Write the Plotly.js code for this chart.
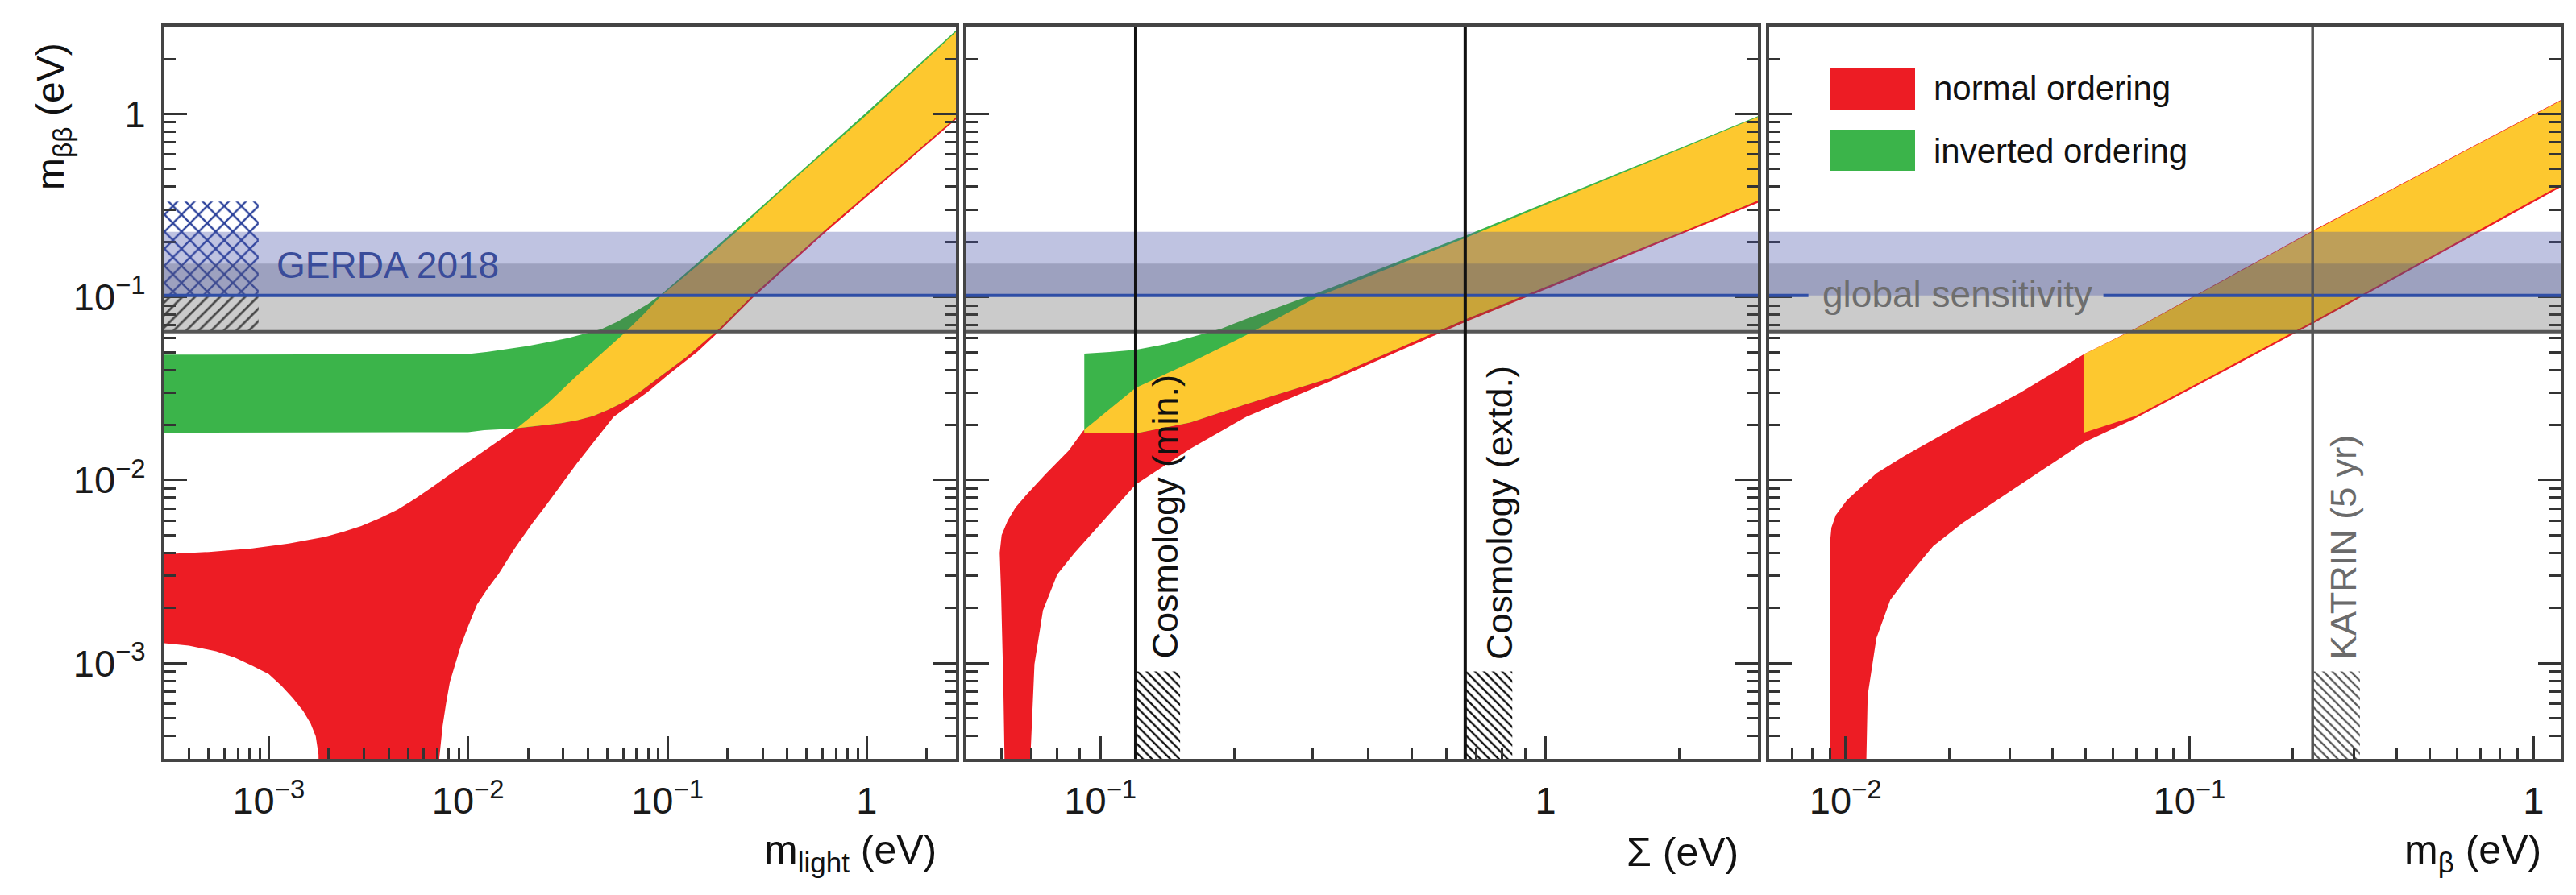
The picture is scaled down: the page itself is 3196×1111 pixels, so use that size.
<!DOCTYPE html>
<html>
<head>
<meta charset="utf-8">
<script src="https://cdn.plot.ly/plotly-3.0.1.min.js"></script>
<style>html,body{margin:0;padding:0;background:#fff;}#chart{width:3196px;height:1111px;}</style>
</head>
<body>
<div id="chart"></div>
<script>
// ---------------- DATA ----------------
// Panel 1: m_light (eV) -> m_bb (eV)
const p1NoUpper = [[3.0e-4,3.93e-3],[5.01e-4,4.05e-3],[8.28e-4,4.23e-3],[1.26e-3,4.50e-3],[1.91e-3,4.89e-3],[2.36e-3,5.21e-3],[2.91e-3,5.61e-3],[3.59e-3,6.18e-3],[4.42e-3,6.89e-3],[5.45e-3,7.93e-3],[6.71e-3,9.25e-3],[8.32e-3,0.01096],[0.0102,0.01274],[0.0134,0.0156],[0.01758,0.01919],[0.0209,0.02234],[0.02512,0.0263],[0.0295,0.0310],[0.03508,0.03715],[0.0457,0.0481],[0.06053,0.0631],[0.0759,0.0804],[0.09354,0.1023],[0.1413,0.1479],[0.2239,0.2291],[0.398,0.407],[1.0,0.9886],[2.8,2.80]];
const p1NoLower = [[3.0e-4,1.285e-3],[3.98e-4,1.245e-3],[5.45e-4,1.161e-3],[6.76e-4,1.072e-3],[8.28e-4,9.68e-4],[1.0e-3,8.71e-4],[1.159e-3,7.53e-4],[1.318e-3,6.46e-4],[1.489e-3,5.48e-4],[1.622e-3,4.68e-4],[1.722e-3,3.98e-4],[1.778e-3,3.16e-4],[1.80e-3,1.0e-4],[7.11e-3,1.0e-4],[7.16e-3,2.96e-4],[7.46e-3,4.56e-4],[7.76e-3,6.03e-4],[8.11e-3,7.89e-4],[8.71e-3,1.023e-3],[9.20e-3,1.245e-3],[0.0100,1.585e-3],[0.01109,2.089e-3],[0.01259,2.57e-3],[0.01429,3.09e-3],[0.01722,4.266e-3],[0.02089,5.754e-3],[0.02455,7.244e-3],[0.03508,0.0123],[0.0537,0.02213],[0.07943,0.0302],[0.1023,0.03802],[0.1413,0.05012],[0.1811,0.06457],[0.2679,0.09886],[0.6081,0.2213],[2.8,0.9333]];
const p1IoUpper = [[3.0e-4,0.04842],[0.0100,0.04875],[0.01259,0.05012],[0.01585,0.05188],[0.01995,0.05395],[0.02512,0.05662],[0.03162,0.05957],[0.03981,0.06368],[0.04677,0.06683],[0.05623,0.07328],[0.06668,0.08185],[0.07943,0.0912],[0.09354,0.1038],[0.2239,0.2371],[1.0,1.023],[2.8,2.858]];
const p1IoLower = [[3.0e-4,0.01816],[0.0100,0.01828],[0.01205,0.01871],[0.01722,0.0191],[0.02239,0.01972],[0.02938,0.02046],[0.03548,0.02128],[0.04236,0.02239],[0.05012,0.02415],[0.06053,0.02673],[0.07244,0.0302],[0.0865,0.03499],[0.1236,0.04677],[0.1811,0.06683],[0.2679,0.1023],[0.6081,0.2286],[2.8,0.9572]];
const p1BothUpper = [[0.01758,0.01919],[0.0209,0.02234],[0.02512,0.0263],[0.0295,0.0310],[0.03508,0.03715],[0.0457,0.0481],[0.06053,0.0631],[0.0759,0.0804],[0.09354,0.1023],[0.1413,0.1479],[0.2239,0.2291],[0.398,0.407],[1.0,0.9886],[2.8,2.80]];
const p1BothLower = [[0.01758,0.01919],[0.02239,0.01972],[0.02938,0.02046],[0.03548,0.02128],[0.04236,0.02239],[0.05012,0.02415],[0.06053,0.02673],[0.07244,0.0302],[0.0865,0.03499],[0.1236,0.04677],[0.1811,0.06683],[0.2679,0.1023],[0.6081,0.2286],[2.8,0.9572]];

// Panel 2: Sigma (eV) -> m_bb (eV)
const p2NoUpper = [[0.0594,0.0040],[0.0600,0.0050],[0.0619,0.0060],[0.0645,0.0071],[0.0680,0.00824],[0.0754,0.0108],[0.0849,0.0145],[0.0915,0.0186],[0.120,0.0319],[0.159,0.0438],[0.213,0.062],[0.309,0.101],[0.66,0.210],[3.0,0.962]];
const p2NoLower = [[0.0598,0.0025],[0.0605,8.0e-4],[0.0609,3.0e-4],[0.0610,1.0e-4],[0.0694,1.0e-4],[0.0696,3.0e-4],[0.0711,9.86e-4],[0.0743,0.00194],[0.0800,0.00305],[0.0875,0.0040],[0.1016,0.0060],[0.120,0.00944],[0.159,0.0148],[0.213,0.0222],[0.327,0.0345],[0.66,0.0730],[3.0,0.327]];
const p2IoUpper = [[0.092,0.049],[0.105,0.050],[0.120,0.0515],[0.140,0.0553],[0.159,0.060],[0.187,0.0672],[0.213,0.076],[0.309,0.106],[0.66,0.216],[3.0,0.972]];
const p2IoLower = [[0.092,0.0180],[0.120,0.0180],[0.159,0.0206],[0.213,0.0260],[0.327,0.0360],[0.66,0.0755],[1.97,0.221],[3.0,0.336]];
const p2BothUpper = [[0.092,0.0188],[0.120,0.0319],[0.159,0.0438],[0.213,0.062],[0.309,0.101],[0.66,0.210],[3.0,0.962]];
const p2BothLower = [[0.092,0.0180],[0.120,0.0180],[0.159,0.0206],[0.213,0.0260],[0.327,0.0360],[0.66,0.0755],[1.97,0.221],[3.0,0.336]];

// Panel 3: m_beta (eV) -> m_bb (eV)
const p3NoUpper = [[0.00902,0.0046],[0.0091,0.0055],[0.00937,0.00643],[0.0101,0.00778],[0.0123,0.0109],[0.0149,0.0136],[0.0219,0.0204],[0.0322,0.0300],[0.0492,0.0486],[0.0698,0.0675],[0.230,0.232],[1.2,1.19]];
const p3NoLower = [[0.00902,1.0e-4],[0.0115,1.0e-4],[0.0115,3.0e-4],[0.0116,6.67e-4],[0.0123,0.00137],[0.0135,0.00222],[0.0155,0.00312],[0.0180,0.00437],[0.0219,0.00583],[0.0265,0.00741],[0.0322,0.00944],[0.0390,0.0120],[0.0492,0.0160],[0.0698,0.0218],[0.117,0.0365],[0.230,0.0720],[1.2,0.398]];
const p3BothUpper = [[0.0492,0.0485],[0.0698,0.0671],[0.230,0.230],[1.2,1.18]];
const p3BothLower = [[0.0492,0.0181],[0.0698,0.0224],[0.117,0.0374],[0.230,0.0740],[1.2,0.409]];

// Horizontal limits / bands (m_bb, eV)
const gerdaBand = [0.102, 0.227];
const globalBand = [0.0646, 0.152];
const gerdaLimit = 0.102;
const globalLimit = 0.0646;
const gerdaHatch = {x:[3.0e-4, 8.9e-4], y:[0.102, 0.332]};
const globalHatch = {x:[3.0e-4, 8.9e-4], y:[0.0646, 0.102]};
// Vertical limits
const cosmoMin = 0.12, cosmoExtd = 0.66, katrin = 0.228;
const cosmoMinHatch = {x:[0.12, 0.151], y:[2.0e-4, 9.0e-4]};
const cosmoExtdHatch = {x:[0.66, 0.842], y:[2.0e-4, 9.0e-4]};
const katrinHatch = {x:[0.228, 0.313], y:[2.0e-4, 9.0e-4]};

// Axis ticks
const yTickVals = [1e-3, 1e-2, 1e-1, 1];
const yTickText = ['10<sup>\u22123</sup>','10<sup>\u22122</sup>','10<sup>\u22121</sup>','1'];
const x1TickVals = [1e-3, 1e-2, 1e-1, 1];
const x1TickText = ['10<sup>\u22123</sup>','10<sup>\u22122</sup>','10<sup>\u22121</sup>','1'];
const x2TickVals = [0.1, 1];
const x2TickText = ['10<sup>\u22121</sup>','1'];
const x3TickVals = [0.01, 0.1, 1];
const x3TickText = ['10<sup>\u22122</sup>','10<sup>\u22121</sup>','1'];
const yRange = [3e-4, 3];
const x1Range = [3e-4, 2.8];
const x2Range = [0.05, 3];
const x3Range = [0.006, 1.2];

// ---------------- STYLE ----------------
const FONT = 'Liberation Sans, Arial, Helvetica, sans-serif';
const RED = '#ED1C24', GREEN = '#3BB44A', YELLOW = '#FDC82F';
const BLUE_LINE = '#2F4EA6';
const W = 3196, H = 1111;
const PL = 204, PR = 3177, PT = 33, PB = 942;
const px2x = p => (p - PL) / (PR - PL);
const py2y = p => (PB - p) / (PB - PT);
const L = Math.log10;

function poly(upper, lower, color, xa, ya) {
  const lo = lower.slice().reverse();
  return {
    type: 'scatter', mode: 'lines', xaxis: xa, yaxis: ya,
    x: upper.map(p => p[0]).concat(lo.map(p => p[0])),
    y: upper.map(p => p[1]).concat(lo.map(p => p[1])),
    fill: 'toself', fillcolor: color, line: {width: 0, color: color},
    hoverinfo: 'skip', showlegend: false
  };
}
function hatch(box, shape, fg, size, sol, xa, ya) {
  return {
    type: 'scatter', mode: 'lines', xaxis: xa, yaxis: ya,
    x: [box.x[0], box.x[1], box.x[1], box.x[0], box.x[0]],
    y: [box.y[0], box.y[0], box.y[1], box.y[1], box.y[0]],
    fill: 'toself', fillcolor: 'rgba(0,0,0,0)',
    fillpattern: {shape: shape, fgcolor: fg, bgcolor: 'rgba(0,0,0,0)', size: size, solidity: sol},
    line: {width: 0}, hoverinfo: 'skip', showlegend: false
  };
}

const traces = [
  poly(p1NoUpper, p1NoLower, RED, 'x', 'y'),
  poly(p1IoUpper, p1IoLower, GREEN, 'x', 'y'),
  poly(p1BothUpper, p1BothLower, YELLOW, 'x', 'y'),
  hatch(gerdaHatch, 'x', '#2E449C', 15, 0.3, 'x', 'y'),
  hatch(globalHatch, '/', '#444', 11, 0.25, 'x', 'y'),
  poly(p2NoUpper, p2NoLower, RED, 'x2', 'y2'),
  poly(p2IoUpper, p2IoLower, GREEN, 'x2', 'y2'),
  poly(p2BothUpper, p2BothLower, YELLOW, 'x2', 'y2'),
  hatch(cosmoMinHatch, '\\', '#111', 8, 0.3, 'x2', 'y2'),
  hatch(cosmoExtdHatch, '\\', '#111', 8, 0.3, 'x2', 'y2'),
  poly(p3NoUpper, p3NoLower, RED, 'x3', 'y3'),
  poly(p3BothUpper, p3BothLower, YELLOW, 'x3', 'y3'),
  hatch(katrinHatch, '\\', '#555', 8, 0.28, 'x3', 'y3')
];

function minorVals(r) {
  const v = [];
  for (let e = -5; e <= 1; e++) for (let k = 2; k <= 9; k++) {
    const t = k * Math.pow(10, e);
    if (t > r[0] * 1.0001 && t < r[1] * 0.9999) v.push(t);
  }
  return v;
}
const tickFont = {family: FONT, size: 47, color: '#1a1a1a'};
function xAxis(dom, range, tv, tt, anchor) {
  return {
    type: 'log', domain: dom, range: [L(range[0]), L(range[1])], anchor: anchor,
    tickmode: 'array', tickvals: tv, ticktext: tt, ticks: 'inside', ticklen: 28, tickwidth: 3, tickcolor: '#333',
    minor: {tickmode: 'array', tickvals: minorVals(range), ticks: 'inside', ticklen: 14, tickwidth: 3, tickcolor: '#333', showgrid: false},
    showline: true, linecolor: '#444', linewidth: 4, mirror: true, showgrid: false, zeroline: false,
    tickfont: tickFont, ticklabelstandoff: 8
  };
}
function yAxis(anchor, showLabels) {
  return {
    type: 'log', domain: [0, 1], range: [L(yRange[0]), L(yRange[1])], anchor: anchor,
    tickmode: 'array', tickvals: yTickVals, ticktext: yTickText, showticklabels: showLabels,
    ticks: 'inside', ticklen: 28, tickwidth: 3, tickcolor: '#333',
    minor: {tickmode: 'array', tickvals: minorVals(yRange), ticks: 'inside', ticklen: 14, tickwidth: 3, tickcolor: '#333', showgrid: false},
    showline: true, linecolor: '#444', linewidth: 4, mirror: 'allticks', showgrid: false, zeroline: false,
    tickfont: tickFont, ticklabelstandoff: 10
  };
}

const shapes = [];
[['x domain','y','x'],['x2 domain','y2','x2'],['x3 domain','y3','x3']].forEach(([xd, yr, xa]) => {
  shapes.push({type:'rect', layer:'above', xref: xd, yref: yr, x0: 0, x1: 1, y0: globalBand[0], y1: globalBand[1], fillcolor: 'rgba(82,82,82,0.30)', line: {width: 0}});
  shapes.push({type:'rect', layer:'above', xref: xd, yref: yr, x0: 0, x1: 1, y0: gerdaBand[0], y1: gerdaBand[1], fillcolor: 'rgba(72,84,170,0.35)', line: {width: 0}});
  shapes.push({type:'line', layer:'above', xref: xd, yref: yr, x0: 0, x1: 1, y0: globalLimit, y1: globalLimit, line: {color: '#555', width: 4}});
});
shapes.push({type:'line', layer:'above', xref:'x domain', yref:'y', x0:0, x1:1, y0:gerdaLimit, y1:gerdaLimit, line:{color:BLUE_LINE, width:4}});
shapes.push({type:'line', layer:'above', xref:'x2 domain', yref:'y2', x0:0, x1:1, y0:gerdaLimit, y1:gerdaLimit, line:{color:BLUE_LINE, width:4}});
shapes.push({type:'line', layer:'above', xref:'x3', yref:'y3', x0:x3Range[0], x1:0.0078, y0:gerdaLimit, y1:gerdaLimit, line:{color:BLUE_LINE, width:4}});
shapes.push({type:'line', layer:'above', xref:'x3', yref:'y3', x0:0.0562, x1:x3Range[1], y0:gerdaLimit, y1:gerdaLimit, line:{color:BLUE_LINE, width:4}});
shapes.push({type:'line', layer:'above', xref:'x2', yref:'y2 domain', x0:cosmoMin, x1:cosmoMin, y0:0, y1:1, line:{color:'#111', width:4}});
shapes.push({type:'line', layer:'above', xref:'x2', yref:'y2 domain', x0:cosmoExtd, x1:cosmoExtd, y0:0, y1:1, line:{color:'#111', width:4}});
shapes.push({type:'line', layer:'above', xref:'x3', yref:'y3 domain', x0:katrin, x1:katrin, y0:0, y1:1, line:{color:'#555', width:3.5}});
// legend swatches
shapes.push({type:'rect', layer:'above', xref:'paper', yref:'paper', x0:px2x(2270), x1:px2x(2376), y0:py2y(136), y1:py2y(85), fillcolor:RED, line:{width:0}});
shapes.push({type:'rect', layer:'above', xref:'paper', yref:'paper', x0:px2x(2270), x1:px2x(2376), y0:py2y(212), y1:py2y(161), fillcolor:GREEN, line:{width:0}});

const annotations = [
  {xref:'x', yref:'y', x:L(1.07e-3), y:L(0.149), xanchor:'left', yanchor:'middle', showarrow:false, text:'GERDA 2018', font:{family:FONT, size:46, color:'#3A4C9A'}},
  {xref:'x3', yref:'y3', x:L(0.0211), y:L(0.104), xanchor:'center', yanchor:'middle', showarrow:false, text:'global sensitivity', font:{family:FONT, size:46, color:'#6E6E6E'}},
  {xref:'x2', yref:'y2', x:L(0.1395), y:L(0.0063), textangle:-90, xanchor:'center', yanchor:'middle', showarrow:false, text:'Cosmology (min.)', font:{family:FONT, size:45, color:'#111'}},
  {xref:'x2', yref:'y2', x:L(0.789), y:L(0.00664), textangle:-90, xanchor:'center', yanchor:'middle', showarrow:false, text:'Cosmology (extd.)', font:{family:FONT, size:45, color:'#111'}},
  {xref:'x3', yref:'y3', x:L(0.28), y:L(0.00428), textangle:-90, xanchor:'center', yanchor:'middle', showarrow:false, text:'KATRIN (5 yr)', font:{family:FONT, size:45, color:'#6B6B6B'}},
  {xref:'paper', yref:'paper', x:px2x(2397), y:py2y(110), xanchor:'left', yanchor:'middle', showarrow:false, text:'normal ordering', font:{family:FONT, size:42, color:'#111'}},
  {xref:'paper', yref:'paper', x:px2x(2397), y:py2y(187), xanchor:'left', yanchor:'middle', showarrow:false, text:'inverted ordering', font:{family:FONT, size:42, color:'#111'}},
  {xref:'paper', yref:'paper', x:px2x(66), y:py2y(145), textangle:-90, xanchor:'center', yanchor:'middle', showarrow:false, text:'m<sub>\u03b2\u03b2</sub> (eV)', font:{family:FONT, size:48, color:'#111'}},
  {xref:'paper', yref:'paper', x:px2x(1164), y:py2y(1058), xanchor:'right', yanchor:'middle', showarrow:false, text:'m<sub>light</sub> (eV)', font:{family:FONT, size:50, color:'#111'}},
  {xref:'paper', yref:'paper', x:px2x(2159), y:py2y(1058), xanchor:'right', yanchor:'middle', showarrow:false, text:'\u03a3 (eV)', font:{family:FONT, size:50, color:'#111'}},
  {xref:'paper', yref:'paper', x:px2x(3155), y:py2y(1058), xanchor:'right', yanchor:'middle', showarrow:false, text:'m<sub>\u03b2</sub> (eV)', font:{family:FONT, size:50, color:'#111'}}
];

const layout = {
  width: W, height: H,
  margin: {l: PL, r: W - PR, t: PT, b: H - PB, pad: 0},
  paper_bgcolor: '#fff', plot_bgcolor: '#fff',
  showlegend: false,
  font: {family: FONT, color: '#111'},
  xaxis: xAxis([0, px2x(1186)], x1Range, x1TickVals, x1TickText, 'y'),
  xaxis2: xAxis([px2x(1199), px2x(2181)], x2Range, x2TickVals, x2TickText, 'y2'),
  xaxis3: xAxis([px2x(2195), 1], x3Range, x3TickVals, x3TickText, 'y3'),
  yaxis: yAxis('x', true),
  yaxis2: yAxis('x2', false),
  yaxis3: yAxis('x3', false),
  shapes: shapes,
  annotations: annotations
};

Plotly.newPlot('chart', traces, layout, {displayModeBar: false, staticPlot: true});
</script>
</body>
</html>
